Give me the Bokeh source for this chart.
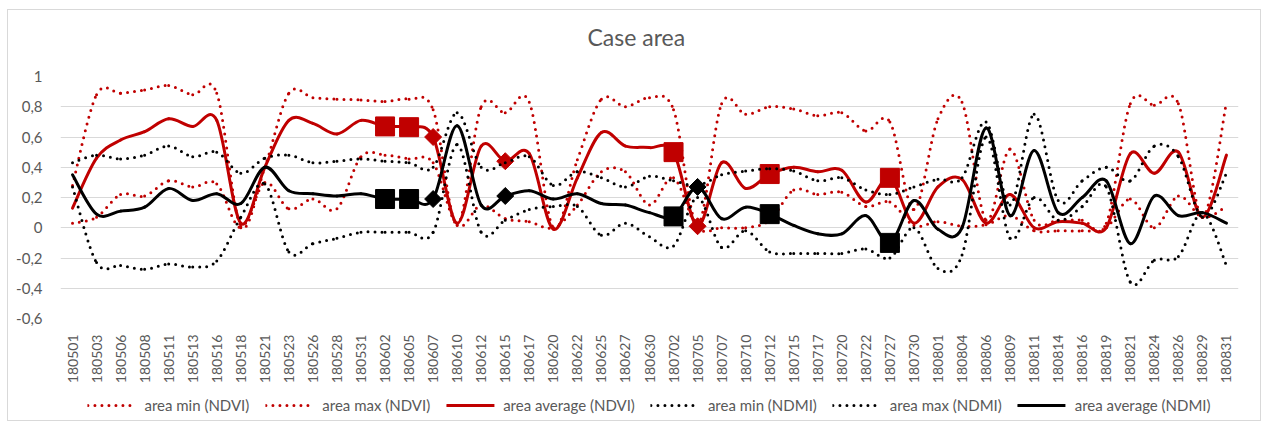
import numpy as np
from bokeh.plotting import figure
from bokeh.layouts import column
from bokeh.models import FactorRange, Range1d, FixedTicker, Legend, LegendItem, Label
from bokeh.embed import file_html
from bokeh.resources import INLINE

dates = ["180501", "180503", "180506", "180508", "180511", "180513", "180516", "180518",
         "180521", "180523", "180526", "180528", "180531", "180602", "180605", "180607",
         "180610", "180612", "180615", "180617", "180620", "180622", "180625", "180627",
         "180630", "180702", "180705", "180707", "180710", "180712", "180715", "180717",
         "180720", "180722", "180727", "180730", "180801", "180804", "180806", "180809",
         "180811", "180814", "180816", "180819", "180821", "180824", "180826", "180829",
         "180831"]

ndvi_min = [0.03, 0.07, 0.22, 0.21, 0.31, 0.27, 0.29, 0.00, 0.30, 0.125, 0.19, 0.125, 0.47,
            0.48, 0.455, 0.43, 0.015, 0.15, 0.06, 0.04, 0.00, 0.15, 0.37, 0.37, 0.15, 0.33,
            0.00, 0.00, 0.00, 0.05, 0.25, 0.22, 0.235, 0.14, 0.17, 0.015, 0.04, 0.01, 0.02,
            0.08, -0.02, -0.02, -0.02, 0.00, 0.19, 0.00, 0.21, 0.07, 0.14]
ndvi_max = [0.28, 0.88, 0.89, 0.91, 0.94, 0.88, 0.89, 0.01, 0.40, 0.89, 0.86, 0.85, 0.845,
            0.835, 0.85, 0.78, 0.02, 0.80, 0.76, 0.83, 0.00, 0.45, 0.85, 0.80, 0.86, 0.78,
            0.02, 0.82, 0.75, 0.80, 0.785, 0.74, 0.76, 0.64, 0.70, 0.12, 0.72, 0.83, 0.05,
            0.52, 0.05, 0.05, 0.05, 0.03, 0.82, 0.81, 0.82, 0.07, 0.83]
ndvi_avg = [0.13, 0.46, 0.58, 0.635, 0.72, 0.67, 0.71, 0.03, 0.40, 0.71, 0.69, 0.62, 0.71,
            0.67, 0.665, 0.60, 0.03, 0.54, 0.44, 0.49, -0.01, 0.33, 0.63, 0.54, 0.53, 0.50,
            0.01, 0.43, 0.26, 0.355, 0.40, 0.37, 0.38, 0.17, 0.33, 0.03, 0.27, 0.32, 0.03,
            0.22, 0.00, 0.04, 0.03, 0.00, 0.49, 0.36, 0.50, 0.07, 0.48]
ndmi_min = [0.27, -0.23, -0.25, -0.275, -0.24, -0.26, -0.22, 0.07, 0.29, -0.16, -0.105, -0.07,
            -0.03, -0.03, -0.03, -0.03, 0.55, -0.03, 0.05, 0.12, 0.14, 0.14, -0.05, 0.03,
            -0.06, -0.12, 0.20, -0.13, -0.02, -0.16, -0.17, -0.17, -0.17, -0.14, -0.20, 0.00,
            -0.27, -0.18, 0.60, -0.07, 0.20, 0.05, 0.14, 0.27, -0.36, -0.215, -0.19, 0.10, -0.25]
ndmi_max = [0.43, 0.48, 0.455, 0.48, 0.54, 0.47, 0.50, 0.36, 0.46, 0.48, 0.43, 0.44, 0.455,
            0.44, 0.43, 0.40, 0.76, 0.40, 0.43, 0.47, 0.28, 0.37, 0.33, 0.27, 0.34, 0.31,
            0.28, 0.35, 0.375, 0.39, 0.375, 0.31, 0.33, 0.25, 0.22, 0.27, 0.32, 0.33, 0.70,
            0.15, 0.75, 0.18, 0.31, 0.40, 0.31, 0.54, 0.47, 0.07, 0.36]
ndmi_avg = [0.35, 0.09, 0.11, 0.136, 0.26, 0.18, 0.225, 0.16, 0.40, 0.245, 0.225, 0.21, 0.225,
            0.19, 0.19, 0.19, 0.675, 0.15, 0.21, 0.245, 0.19, 0.225, 0.16, 0.15, 0.10, 0.075,
            0.27, 0.06, 0.136, 0.09, 0.015, -0.04, -0.04, 0.08, -0.10, 0.18, -0.01, 0.00, 0.66,
            0.08, 0.51, 0.10, 0.20, 0.31, -0.105, 0.21, 0.08, 0.10, 0.03]

square_dates = ["180602", "180605", "180702", "180712", "180727"]
diamond_dates = ["180607", "180615", "180705"]

series_labels = ["area min (NDVI)", "area max (NDVI)", "area average (NDVI)",
                 "area min (NDMI)", "area max (NDMI)", "area average (NDMI)"]
title_text = "Case area"

y_ticks = [-0.6, -0.4, -0.2, 0, 0.2, 0.4, 0.6, 0.8, 1]
y_tick_labels = ["-0,6", "-0,4", "-0,2", "0", "0,2", "0,4", "0,6", "0,8", "1"]

RED = "#C00000"
BLACK = "#000000"
GREY = "#595959"
FONT = "Lato"
DOT = "0 7"

W = 1252
TITLE_H = 46

# ---- title strip ----
tt = figure(width=W, height=TITLE_H, x_range=Range1d(0, W), y_range=Range1d(0, TITLE_H),
            output_backend="svg", toolbar_location=None,
            x_axis_location=None, y_axis_location=None,
            min_border_left=0, min_border_right=0, min_border_top=0, min_border_bottom=0)
tt.outline_line_color = None
tt.grid.grid_line_color = None
tt.add_layout(Label(x=W / 2 - 14, y=20, text=title_text, text_align="center",
                    text_baseline="middle", text_font=FONT, text_font_size="23px",
                    text_color=GREY))

# ---- main chart ----
p = figure(width=W, height=334, x_range=FactorRange(*dates), y_range=Range1d(-0.6, 1.0),
           output_backend="svg", toolbar_location=None,
           min_border_left=52, min_border_right=17, min_border_top=20, min_border_bottom=72)
p.outline_line_color = None

p.xgrid.grid_line_color = None
p.ygrid.grid_line_color = "#d9d9d9"
p.ygrid.grid_line_width = 1

p.yaxis.ticker = FixedTicker(ticks=y_ticks)
p.yaxis.major_label_overrides = dict(zip(y_ticks, y_tick_labels))
p.yaxis.axis_line_color = None
p.yaxis.major_tick_line_color = None
p.yaxis.minor_tick_line_color = None
p.yaxis.major_label_text_font = FONT
p.yaxis.major_label_text_font_size = "15px"
p.yaxis.major_label_text_color = GREY
p.yaxis.major_label_standoff = 12

p.xaxis.major_label_orientation = np.pi / 2
p.xaxis.axis_line_color = None
p.xaxis.major_tick_line_color = None
p.xaxis.major_label_text_font = FONT
p.xaxis.major_label_text_font_size = "14px"
p.xaxis.major_label_text_color = GREY
p.xaxis.major_label_standoff = 10

# x positions of the categories in the factor range's synthetic coordinates
xpos = np.arange(len(dates)) + 0.5


def smooth(fig, vals, **style):
    """Excel-style smoothed line: cubic Bezier segments through the data points."""
    y = np.asarray(vals, dtype=float)
    n = len(y)
    i = np.arange(n - 1)
    im = np.maximum(i - 1, 0)
    ip = np.minimum(i + 2, n - 1)
    return fig.bezier(x0=xpos[i], y0=y[i], x1=xpos[i + 1], y1=y[i + 1],
                      cx0=xpos[i] + (xpos[i + 1] - xpos[im]) / 6,
                      cy0=y[i] + (y[i + 1] - y[im]) / 6,
                      cx1=xpos[i + 1] - (xpos[ip] - xpos[i]) / 6,
                      cy1=y[i + 1] - (y[ip] - y[i]) / 6, **style)


dotted_red = dict(line_color=RED, line_width=3, line_dash=DOT, line_cap="round")
solid_red = dict(line_color=RED, line_width=3, line_cap="round")
dotted_blk = dict(line_color=BLACK, line_width=3, line_dash=DOT, line_cap="round")
solid_blk = dict(line_color=BLACK, line_width=3, line_cap="round")

idx_sq = [dates.index(d) for d in square_dates]
idx_di = [dates.index(d) for d in diamond_dates]

smooth(p, ndvi_min, **dotted_red)
smooth(p, ndvi_max, **dotted_red)
smooth(p, ndvi_avg, **solid_red)
p.scatter(square_dates, [ndvi_avg[i] for i in idx_sq], marker="square", size=19,
          fill_color=RED, line_color=RED)
p.scatter(diamond_dates, [ndvi_avg[i] for i in idx_di], marker="square", size=12,
          angle=np.pi / 4, fill_color=RED, line_color=RED)
smooth(p, ndmi_min, **dotted_blk)
smooth(p, ndmi_max, **dotted_blk)
smooth(p, ndmi_avg, **solid_blk)
p.scatter(square_dates, [ndmi_avg[i] for i in idx_sq], marker="square", size=19,
          fill_color=BLACK, line_color=BLACK)
p.scatter(diamond_dates, [ndmi_avg[i] for i in idx_di], marker="square", size=12,
          angle=np.pi / 4, fill_color=BLACK, line_color=BLACK)

# ---- legend strip below the chart ----
lg = figure(width=W, height=30, x_range=p.x_range, y_range=p.y_range,
            output_backend="svg", toolbar_location=None,
            x_axis_location=None, y_axis_location=None,
            min_border_left=47, min_border_right=22, min_border_top=0, min_border_bottom=0)
lg.outline_line_color = None
lg.grid.grid_line_color = None

styles = [dotted_red, dotted_red, solid_red, dotted_blk, dotted_blk, solid_blk]
series = [ndvi_min, ndvi_max, ndvi_avg, ndmi_min, ndmi_max, ndmi_avg]
items = []
for lab, vals, st in zip(series_labels, series, styles):
    r = lg.line(dates, vals, visible=False, **st)
    items.append(LegendItem(label=lab, renderers=[r]))

legend = Legend(items=items, orientation="horizontal", location="center")
legend.label_text_font = FONT
legend.label_text_font_size = "15px"
legend.label_text_color = GREY
legend.border_line_color = None
legend.background_fill_alpha = 0
legend.inactive_fill_alpha = 0
legend.glyph_width = 48
legend.glyph_height = 16
legend.spacing = 16
legend.label_standoff = 9
legend.padding = 0
legend.margin = 0
lg.add_layout(legend, "center")

layout = column(tt, p, lg, spacing=0,
                styles={"border": "1px solid #d9d9d9", "margin": "9px 0 0 7px"})
open("out.html", "w").write(file_html(layout, INLINE))
